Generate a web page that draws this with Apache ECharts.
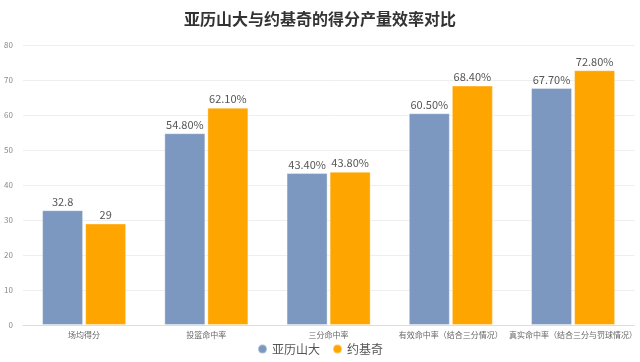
<!DOCTYPE html>
<html><head><meta charset="utf-8">
<script src="https://cdn.jsdelivr.net/npm/echarts@6/dist/echarts.min.js"></script>
<style>html,body{margin:0;padding:0;background:#fff}#c{width:640px;height:362px}</style>
</head><body><div id="c"></div>
<script>
const categories = ['场均得分','投篮命中率','三分命中率','有效命中率（结合三分情况）','真实命中率（结合三分与罚球情况）'];
const seriesNames = ['亚历山大','约基奇'];
const alexValues = [32.8, 54.8, 43.4, 60.5, 67.7];
const jokicValues = [29, 62.1, 43.8, 68.4, 72.8];
const alexLabels = ['32.8','54.80%','43.40%','60.50%','67.70%'];
const jokicLabels = ['29','62.10%','43.80%','68.40%','72.80%'];
const yTicks = [0,10,20,30,40,50,60,70,80];

const font = '"Noto Sans CJK SC", "Noto Sans", sans-serif';
const chart = echarts.init(document.getElementById('c'));
function mk(name, vals, labels, color){
  return {
    name, type:'bar', data: vals, barWidth: 41, barGap: '5%',
    itemStyle:{color, borderColor: 'rgba(255,255,255,0.35)', borderWidth: 1},
    label:{show:true, position:'top', distance:3, color:'#555', fontSize:11, fontFamily:font,
      formatter: p => labels[p.dataIndex]}
  };
}
chart.setOption({
  animation:false,
  title:{text:'亚历山大与约基奇的得分产量效率对比', left:'center', top:6,
    textStyle:{fontSize:16, fontWeight:'bold', color:'#333', fontFamily:font}},
  legend:{bottom:2, itemWidth:9, itemHeight:9, icon:'circle', itemGap:12,
    textStyle:{fontSize:12, color:'#555', fontFamily:font}},
  grid:{left:23, right:5, top:45, bottom:37, containLabel:false},
  xAxis:{type:'category', data:categories,
    axisLine:{lineStyle:{color:'#ddd'}}, axisTick:{show:false},
    axisLabel:{fontSize:8, color:'#666', fontFamily:font, margin:6, interval:0}},
  yAxis:{type:'value', min:yTicks[0], max:yTicks[yTicks.length-1], interval:10,
    axisLabel:{fontSize:8, color:'#888', fontFamily:font, margin:10},
    splitLine:{lineStyle:{color:'#eee'}}},
  series:[mk(seriesNames[0], alexValues, alexLabels, '#7c98c0'), mk(seriesNames[1], jokicValues, jokicLabels, '#ffa500')]
});
</script></body></html>
